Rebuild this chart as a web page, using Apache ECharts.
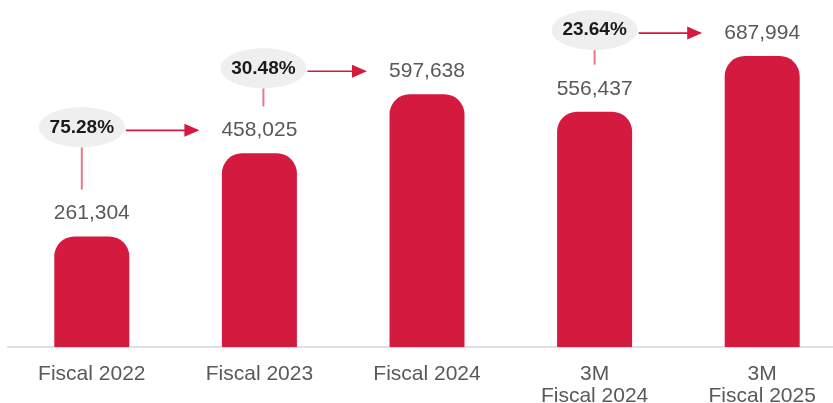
<!DOCTYPE html>
<html>
<head>
<meta charset="utf-8">
<script src="https://cdn.jsdelivr.net/npm/echarts@6/dist/echarts.min.js"></script>
<style>
  html, body { margin: 0; padding: 0; background: #ffffff; }
  #chart { width: 833px; height: 403px; }
</style>
</head>
<body>
<div id="chart"></div>
<script>
// Revenue by period
const categories = ['Fiscal 2022', 'Fiscal 2023', 'Fiscal 2024', '3M\nFiscal 2024', '3M\nFiscal 2025'];
const revenue = [261304, 458025, 597638, 556437, 687994];
// Growth callouts: [from index, to index]
const growthPairs = [[0, 1], [1, 2], [3, 4]];

const RED = '#D41A3F';
const FONT = '"Liberation Sans", Arial, sans-serif';

const chart = echarts.init(document.getElementById('chart'), null, { renderer: 'canvas' });

chart.setOption({
  animation: false,
  grid: {
    left: 8, width: 838, top: 10, bottom: 56,
    containLabel: false, outerBoundsMode: 'none'
  },
  xAxis: {
    type: 'category',
    data: categories,
    axisLine: { show: true, lineStyle: { color: '#e0e0e0', width: 2 } },
    axisTick: { show: false },
    axisLabel: {
      color: '#595959', fontSize: 21, fontFamily: FONT,
      lineHeight: 22, margin: 16, interval: 0
    }
  },
  yAxis: { type: 'value', min: 0, max: 797000, show: false, splitLine: { show: false } },
  series: [{
    type: 'bar',
    data: revenue,
    barWidth: 75,
    itemStyle: { color: RED, borderRadius: [20, 20, 0, 0] },
    label: {
      show: true, position: 'top', distance: 12,
      color: '#595959', fontSize: 21, fontFamily: FONT, lineHeight: 22,
      formatter: p => p.value.toLocaleString('en-US')
    }
  }]
});

// Growth bubbles with connector and arrow, placed from the bar values
const bubbleShift = [-10, 4, 0];
const elements = [];
growthPairs.forEach(([a, b], i) => {
  const pFrom = chart.convertToPixel({ seriesIndex: 0 }, [a, revenue[a]]);
  const pTo = chart.convertToPixel({ seriesIndex: 0 }, [b, revenue[b]]);
  const arrowY = pTo[1] - 23;
  const cx = pFrom[0] + bubbleShift[i];
  const cy = arrowY - 3;
  const rx = 43, ry = 20;
  const pct = ((revenue[b] / revenue[a] - 1) * 100).toFixed(2) + '%';

  // connector from bubble down toward the start bar's label
  elements.push({
    type: 'line',
    shape: { x1: cx, y1: cy + ry, x2: cx, y2: pFrom[1] - 47 },
    style: { stroke: '#E8788E', lineWidth: 2 },
    z: 5
  });
  // bubble
  elements.push({
    type: 'ellipse',
    shape: { cx: cx, cy: cy, rx: rx, ry: ry },
    style: { fill: '#EFEFEF' },
    z: 6
  });
  elements.push({
    type: 'text',
    x: cx, y: cy,
    style: {
      text: pct, fill: '#1a1a1a', font: 'bold 19px ' + FONT,
      align: 'center', verticalAlign: 'middle'
    },
    z: 7
  });
  // arrow to the target bar's label
  const x0 = cx + rx + 1;
  const tip = pTo[0] - 60;
  elements.push({
    type: 'line',
    shape: { x1: x0, y1: arrowY, x2: tip - 12, y2: arrowY },
    style: { stroke: RED, lineWidth: 1.6 },
    z: 5
  });
  elements.push({
    type: 'polygon',
    shape: { points: [[tip, arrowY], [tip - 15, arrowY - 6.5], [tip - 15, arrowY + 6.5]] },
    style: { fill: RED },
    z: 5
  });
});

chart.setOption({ graphic: { elements: elements } });
</script>
</body>
</html>
